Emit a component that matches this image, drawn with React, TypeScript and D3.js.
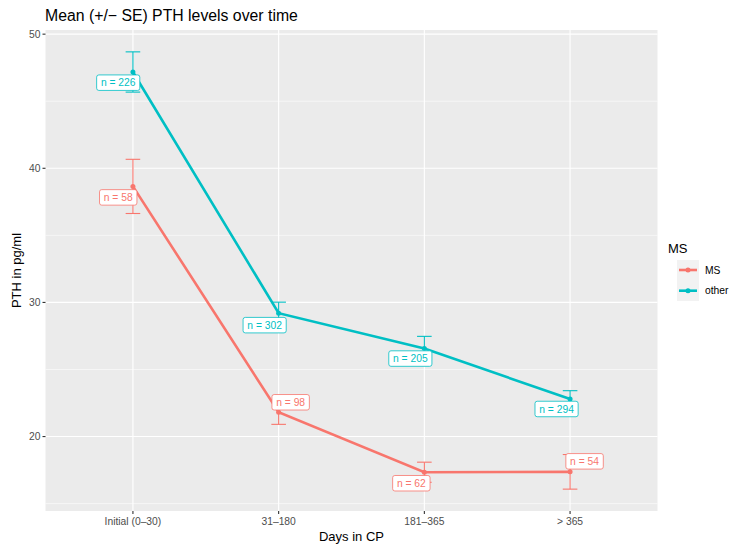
import React from "react";
import * as d3 from "d3";

const categories = ["Initial (0\u201330)", "31\u2013180", "181\u2013365", "> 365"];
const groups = ["MS", "other"];
const msMean = [38.65, 21.81, 17.34, 17.37];
const msSE = [2.02, 0.9, 0.75, 1.29];
const otherMean = [47.18, 29.2, 26.56, 22.8];
const otherSE = [1.5, 0.82, 0.91, 0.62];
const msN = [58, 98, 62, 54];
const otherN = [226, 302, 205, 294];
const yTicks = [20, 30, 40, 50];
const yMinor = [15, 25, 35, 45];
// label nudges (px) relative to point
const msLabelNudge = [[-14.7, 11], [12, -10], [-13, 11], [14.5, -10.5]];
const otherLabelNudge = [[-14.7, 10.7], [-14, 12], [-14, 10], [-13.5, 10]];

const colors: Record<string, string> = { MS: "#F8766D", other: "#00BFC4" };

const W = 735, H = 549;
const M = { left: 45.5, right: 657.5, top: 30, bottom: 511 };
const FONT = "Liberation Sans, Arial, sans-serif";

const charW: Record<string, number> = { n: 0.556, " ": 0.278, "=": 0.584 };
const textWidth = (s: string, fs: number) =>
  s.split("").reduce((a, c) => a + (charW[c] ?? 0.556), 0) * fs;

export default function App() {
  const allLo = [...msMean.map((m, i) => m - msSE[i]), ...otherMean.map((m, i) => m - otherSE[i])];
  const allHi = [...msMean.map((m, i) => m + msSE[i]), ...otherMean.map((m, i) => m + otherSE[i])];
  const lo = d3.min(allLo)!, hi = d3.max(allHi)!;
  const pad = (hi - lo) * 0.05;
  const y = d3.scaleLinear().domain([lo - pad, hi + pad]).range([M.bottom, M.top]);
  const step = (M.right - M.left) / (categories.length - 1 + 1.2);
  const x = (i: number) => M.left + step * 0.6 + i * step;

  const series = [
    { g: "MS", mean: msMean, se: msSE, n: msN, nudge: msLabelNudge },
    { g: "other", mean: otherMean, se: otherSE, n: otherN, nudge: otherLabelNudge },
  ];
  const line = d3.line<number>().x((_, i) => x(i)).y((d) => y(d));
  const capW = 7.3;
  const labFs = 10.3;

  return (
    <svg width={W} height={H} style={{ position: "absolute", left: 0, top: 0, background: "#fff" }} fontFamily={FONT}>
      <rect x={0} y={0} width={W} height={H} fill="#fff" />
      <text x={45} y={21} fontSize={15.8} fill="#000">Mean (+/− SE) PTH levels over time</text>
      <rect x={M.left} y={M.top} width={M.right - M.left} height={M.bottom - M.top} fill="#EBEBEB" />
      {yMinor.map((t) => (
        <line key={"mn" + t} x1={M.left} x2={M.right} y1={y(t)} y2={y(t)} stroke="#fff" strokeWidth={0.55} />
      ))}
      {yTicks.map((t) => (
        <line key={"mj" + t} x1={M.left} x2={M.right} y1={y(t)} y2={y(t)} stroke="#fff" strokeWidth={1.1} />
      ))}
      {categories.map((c, i) => (
        <line key={"vx" + i} x1={x(i)} x2={x(i)} y1={M.top} y2={M.bottom} stroke="#fff" strokeWidth={1.1} />
      ))}
      {yTicks.map((t) => (
        <g key={"yt" + t}>
          <line x1={M.left - 3} x2={M.left} y1={y(t)} y2={y(t)} stroke="#333" strokeWidth={1.1} />
          <text x={M.left - 5} y={y(t)} dy="0.35em" textAnchor="end" fontSize={10.3} fill="#4D4D4D">{t}</text>
        </g>
      ))}
      {categories.map((c, i) => (
        <g key={"xt" + i}>
          <line x1={x(i)} x2={x(i)} y1={M.bottom} y2={M.bottom + 3} stroke="#333" strokeWidth={1.1} />
          <text x={x(i)} y={M.bottom + 13.5} textAnchor="middle" fontSize={10.3} fill="#4D4D4D">{c}</text>
        </g>
      ))}
      <text x={(M.left + M.right) / 2} y={541} textAnchor="middle" fontSize={13} fill="#000">Days in CP</text>
      <text transform={`translate(21,${(M.top + M.bottom) / 2}) rotate(-90)`} textAnchor="middle" fontSize={13} fill="#000">PTH in pg/ml</text>

      {series.map((s) => (
        <g key={"s" + s.g}>
          {s.mean.map((m, i) => (
            <g key={"e" + i} stroke={colors[s.g]} strokeWidth={1.1}>
              <line x1={x(i)} x2={x(i)} y1={y(m - s.se[i])} y2={y(m + s.se[i])} />
              <line x1={x(i) - capW} x2={x(i) + capW} y1={y(m - s.se[i])} y2={y(m - s.se[i])} />
              <line x1={x(i) - capW} x2={x(i) + capW} y1={y(m + s.se[i])} y2={y(m + s.se[i])} />
            </g>
          ))}
          <path d={line(s.mean)!} fill="none" stroke={colors[s.g]} strokeWidth={2.6} />
          {s.mean.map((m, i) => (
            <circle key={"p" + i} cx={x(i)} cy={y(m)} r={2.5} fill={colors[s.g]} />
          ))}
        </g>
      ))}
      {series.map((s) => (
        <g key={"l" + s.g}>
          {s.mean.map((m, i) => {
            const label = `n = ${s.n[i]}`;
            const cx = x(i) + s.nudge[i][0];
            const cy = y(m) + s.nudge[i][1];
            const w = textWidth(label, labFs) + 8.5;
            const h = 15.5;
            return (
              <g key={"lb" + i}>
                <rect x={cx - w / 2} y={cy - h / 2} width={w} height={h} rx={2.2} fill="#fff" stroke={colors[s.g]} strokeWidth={0.8} />
                <text x={cx} y={cy} dy="0.36em" textAnchor="middle" fontSize={labFs} fill={colors[s.g]}>{label}</text>
              </g>
            );
          })}
        </g>
      ))}
      {/* legend */}
      <text x={668} y={253} fontSize={13} fill="#000">MS</text>
      <rect x={677} y={260} width={22} height={41} fill="#F2F2F2" />
      {groups.map((g, i) => (
        <g key={"lg" + g}>
          <line x1={679} x2={697} y1={270 + i * 20.7} y2={270 + i * 20.7} stroke={colors[g]} strokeWidth={2.6} />
          <circle cx={688} cy={270 + i * 20.7} r={2.5} fill={colors[g]} />
          <text x={705} y={270 + i * 20.7} dy="0.35em" fontSize={10.3} fill="#000">{g}</text>
        </g>
      ))}
    </svg>
  );
}
